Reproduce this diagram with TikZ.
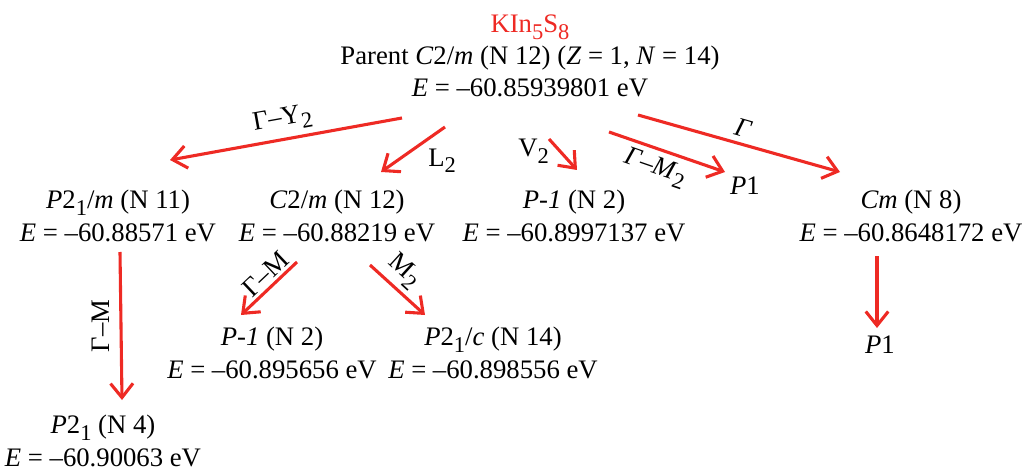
\documentclass[tikz,border=0pt]{standalone}
\usepackage{fontspec}
\setmainfont{Liberation Serif}
\usetikzlibrary{arrows.meta}
\definecolor{splitred}{RGB}{238,42,36}
\newcommand{\lo}[1]{\raisebox{-0.55ex}{\fontsize{16}{16}\selectfont #1}}

\begin{document}
\begin{tikzpicture}[
    x=0.025cm, y=-0.025cm,
    every node/.style={font=\fontsize{19}{23}\selectfont, inner sep=1pt},
    phase/.style={align=center},
    split/.style={draw=splitred, line width=2.2pt, -{Straight Barb[length=10pt, width=16pt, line width=2.2pt]}},
    lbl/.style={font=\fontsize{19}{23}\selectfont}
]
    \useasboundingbox (0,0) rectangle (1025,472);

    % Parent structure
    \node[phase] (parent) at (530,56) {{\color{splitred}KIn\lo{5}S\lo{8}}\\[0pt]
        Parent \textit{C}2/\textit{m} (N 12) (\textit{Z} = 1, \textit{N} = 14)\\
        \textit{E} = –60.85939801 eV};

    % First subgroups
    \node[phase] (p21m) at (118,216) {\textit{P}2\lo{1}/\textit{m} (N 11)\\\textit{E} = –60.88571 eV};
    \node[phase] (c2m) at (337,216) {\textit{C}2/\textit{m} (N 12)\\\textit{E} = –60.88219 eV};
    \node[phase] (pbar) at (574,216) {\textit{P-1} (N 2)\\\textit{E} = –60.8997137 eV};
    \node (pone) at (745,186) {\textit{P}1};
    \node[phase] (cm) at (911,216) {\textit{Cm} (N 8)\\\textit{E} = –60.8648172 eV};

    % Second subgroups
    \node[phase] (pbarb) at (272,353) {\textit{P-1} (N 2)\\\textit{E} = –60.895656 eV};
    \node[phase] (p21c) at (493,353) {\textit{P}2\lo{1}/\textit{c} (N 14)\\\textit{E} = –60.898556 eV};
    \node (ponec) at (880,345) {\textit{P}1};
    \node[phase] (p21) at (103,441) {\textit{P}2\lo{1} (N 4)\\\textit{E} = –60.90063 eV};

    % Arrow ends
    \coordinate (y2a) at (402,118);  \coordinate (y2b) at (170,160);
    \coordinate (l2a) at (445,127);  \coordinate (l2b) at (381,172);
    \coordinate (v2a) at (549,139);  \coordinate (v2b) at (577,170);
    \coordinate (m2a) at (609,132);  \coordinate (m2b) at (725,172);
    \coordinate (gaa) at (638,115);  \coordinate (gab) at (840,172);
    \coordinate (gma) at (120,252);  \coordinate (gmb) at (122,400);
    \coordinate (gca) at (297,262);  \coordinate (gcb) at (241,315);
    \coordinate (mca) at (370,265);  \coordinate (mcb) at (425,315);
    \coordinate (cma) at (877,256);  \coordinate (cmb) at (877,328);

    \draw[split] (y2a) -- (y2b) node[midway, above=3pt, sloped, lbl] {Γ–Y\lo{2}};
    \draw[split] (l2a) -- (l2b) node[pos=0.35, below right=2pt, lbl] {L\lo{2}};
    \draw[split] (v2a) -- (v2b) node[pos=0.4, left=6pt, lbl] {V\lo{2}};
    \draw[split] (m2a) -- (m2b) node[pos=0.45, below=3pt, sloped, lbl] {\textit{Γ}–\textit{M}\lo{2}};
    \draw[split] (gaa) -- (gab) node[midway, above=3pt, sloped, lbl] {\textit{Γ}};
    \draw[split] (gma) -- (gmb) node[midway, left=6pt, rotate=90, anchor=south, lbl] {Γ–M};
    \draw[split] (gca) -- (gcb) node[pos=0.4, above=1pt, sloped, lbl] {Γ–M};
    \draw[split] (mca) -- (mcb) node[pos=0.4, above=2pt, sloped, lbl] {M\lo{2}};
    \draw[split] (cma) -- (cmb);

\end{tikzpicture}
\end{document}
